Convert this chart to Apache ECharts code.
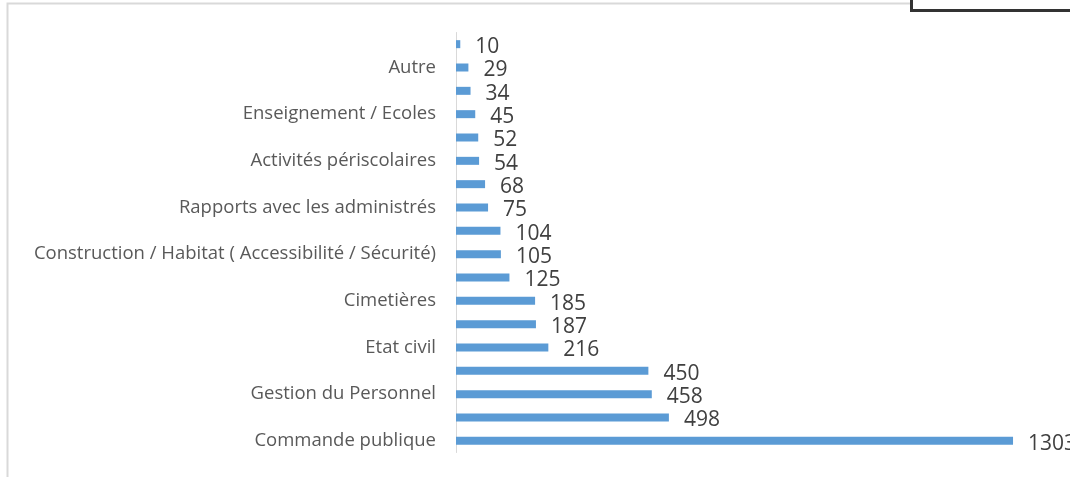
<!DOCTYPE html>
<html>
<head>
<meta charset="utf-8">
<script src="https://cdn.jsdelivr.net/npm/echarts@6/dist/echarts.min.js"></script>
<style>
  html, body { margin: 0; padding: 0; background: #fff; }
  #chart { width: 1070px; height: 477px; }
</style>
</head>
<body>
<div id="chart"></div>
<script>
// catégories (du bas vers le haut), seules une sur deux sont lisibles
let categories = ['Commande publique', '', 'Gestion du Personnel', '', 'Etat civil', '',
    'Cimetières', '', 'Construction / Habitat ( Accessibilité / Sécurité)', '',
    'Rapports avec les administrés', '', 'Activités périscolaires', '',
    'Enseignement / Ecoles', '', 'Autre', '']
// valeurs
let values = [1303, 498, 458, 450, 216, 187, 185, 125, 105, 104, 75, 68, 54, 52, 45, 34, 29, 10]

let chart = echarts.init(document.getElementById('chart'));
let option = {
    animation: false,
    textStyle: { fontFamily: 'Open Sans' },
    graphic: [{
        type: 'polyline',
        shape: { points: [[7.5, 477], [7.5, 3.5], [1070, 3.5]] },
        style: { stroke: '#d9d9d9', lineWidth: 2, fill: null }
    }, {
        type: 'rect',
        shape: { x: 911.5, y: -10, width: 170, height: 20.5 },
        style: { stroke: '#333', lineWidth: 3, fill: '#fff' }
    }],
    grid: { left: 456, right: 15.5, top: 32.5, bottom: 24.5 },
    xAxis: {
        type: 'value',
        min: 0,
        max: 1400,
        show: false
    },
    yAxis: {
        type: 'category',
        data: categories,
        axisLine: { lineStyle: { color: '#d9d9d9', width: 1 } },
        axisTick: { show: false },
        axisLabel: {
            interval: 0,
            margin: 20,
            fontSize: 18.5,
            color: '#595959',
            fontFamily: 'Open Sans',
            padding: [6, 0, 0, 0]
        }
    },
    series: [{
        type: 'bar',
        data: values,
        barWidth: 8,
        itemStyle: { color: '#5b9bd5' },
        label: {
            show: true,
            position: 'right',
            distance: 15,
            offset: [0, 3],
            fontSize: 21,
            color: '#404040',
            fontFamily: 'Open Sans'
        }
    }]
};
chart.setOption(option);
</script>
</body>
</html>
